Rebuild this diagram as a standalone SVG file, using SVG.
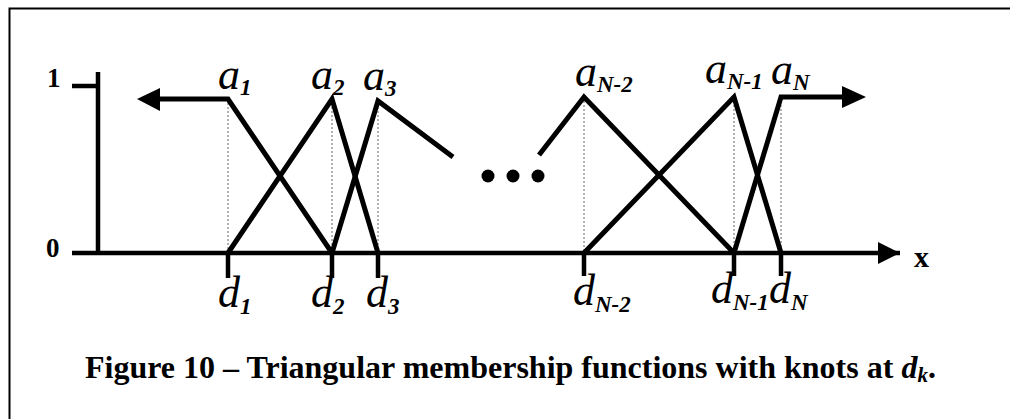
<svg xmlns="http://www.w3.org/2000/svg" width="1010" height="419" viewBox="0 0 1010 419">
<style>
.thick{stroke:#000;stroke-width:5;fill:none;stroke-linejoin:miter}
.axis{stroke:#000;stroke-width:4.5;fill:none}
.guide{stroke:#666;stroke-width:1;stroke-dasharray:2 2;fill:none}
.lbl{font-family:"Liberation Serif",serif;font-style:italic;font-size:44px;fill:#000}
.sub{font-family:"Liberation Serif",serif;font-style:italic;font-weight:bold;font-size:23px}
.ax{font-family:"Liberation Serif",serif;font-weight:bold;fill:#000}
</style>
<defs>
<marker id="ah" viewBox="0 0 10 10" refX="10" refY="5" markerWidth="5" markerHeight="5" markerUnits="strokeWidth" orient="auto">
<path d="M0,0 L10,5 L0,10 z" fill="#000"/>
</marker>
</defs>
<rect x="0" y="0" width="1010" height="419" fill="#fff"/>
<path d="M9.5,430 V8.5 H1020" stroke="#000" stroke-width="2" fill="none"/>
<g id="axes">
<line class="axis" x1="98" y1="72" x2="98" y2="253"/>
<line class="axis" x1="72" y1="86" x2="98" y2="86"/>
<line class="axis" x1="72" y1="253" x2="900" y2="253" marker-end="url(#ah)"/>
<text class="ax" x="47" y="87" font-size="27">1</text>
<text class="ax" x="46" y="257" font-size="27">0</text>
<text class="ax" x="914" y="267" font-size="30">x</text>
</g>
<g id="guides">
<line class="guide" x1="228" y1="99" x2="228" y2="253"/>
<line class="guide" x1="332" y1="99" x2="332" y2="253"/>
<line class="guide" x1="378" y1="99" x2="378" y2="253"/>
<line class="guide" x1="584" y1="97" x2="584" y2="253"/>
<line class="guide" x1="734" y1="97" x2="734" y2="253"/>
<line class="guide" x1="781" y1="97" x2="781" y2="253"/>
</g>
<g id="ticks">
<line class="axis" x1="228" y1="253" x2="228" y2="278"/>
<line class="axis" x1="332" y1="253" x2="332" y2="278"/>
<line class="axis" x1="378" y1="253" x2="378" y2="278"/>
<line class="axis" x1="584" y1="253" x2="584" y2="276"/>
<line class="axis" x1="734" y1="253" x2="734" y2="276"/>
<line class="axis" x1="781" y1="253" x2="781" y2="276"/>
</g>
<g id="connectors">
<polyline class="thick" points="228,253 332,99 378,253"/>
<polyline class="thick" points="332,253 378,101 453,157"/>
<polyline class="thick" points="539,155 584,97 734,253"/>
<polyline class="thick" points="584,253 734,97 781,253"/>
<polyline class="thick" points="734,253 781,97 842,97"/>
<polyline class="thick" points="332,253 228,99 160,99"/>
<polygon points="137,99 160,88 160,111" fill="#000"/>
<polygon points="866,97 842,86 842,108" fill="#000"/>
</g>
<g id="dots">
<circle cx="488" cy="176" r="6.5"/>
<circle cx="513" cy="176" r="6.5"/>
<circle cx="538" cy="176" r="6.5"/>
</g>
<g id="a-labels">
<text class="lbl" x="218" y="89">a<tspan class="sub" dy="6">1</tspan></text>
<text class="lbl" x="311" y="89">a<tspan class="sub" dy="6">2</tspan></text>
<text class="lbl" x="363" y="90">a<tspan class="sub" dy="6">3</tspan></text>
<text class="lbl" x="575" y="86">a<tspan class="sub" dy="6">N-2</tspan></text>
<text class="lbl" x="705" y="83">a<tspan class="sub" dy="6">N-1</tspan></text>
<text class="lbl" x="771" y="84">a<tspan class="sub" dy="6">N</tspan></text>
</g>
<g id="d-labels">
<text class="lbl" x="218" y="307">d<tspan class="sub" dy="7">1</tspan></text>
<text class="lbl" x="311" y="307">d<tspan class="sub" dy="7">2</tspan></text>
<text class="lbl" x="366" y="307">d<tspan class="sub" dy="7">3</tspan></text>
<text class="lbl" x="573" y="305">d<tspan class="sub" dy="7">N-2</tspan></text>
<text class="lbl" x="711" y="303">d<tspan class="sub" dy="7">N-1</tspan></text>
<text class="lbl" x="769" y="303">d<tspan class="sub" dy="7">N</tspan></text>
</g>
<text id="caption" x="85" y="378" font-family="'Liberation Serif',serif" font-weight="bold" font-size="32" fill="#000">Figure 10 – Triangular membership functions with knots at <tspan font-style="italic">d</tspan><tspan font-style="italic" font-size="21" dy="4">k</tspan><tspan dy="-4">.</tspan></text>
</svg>
